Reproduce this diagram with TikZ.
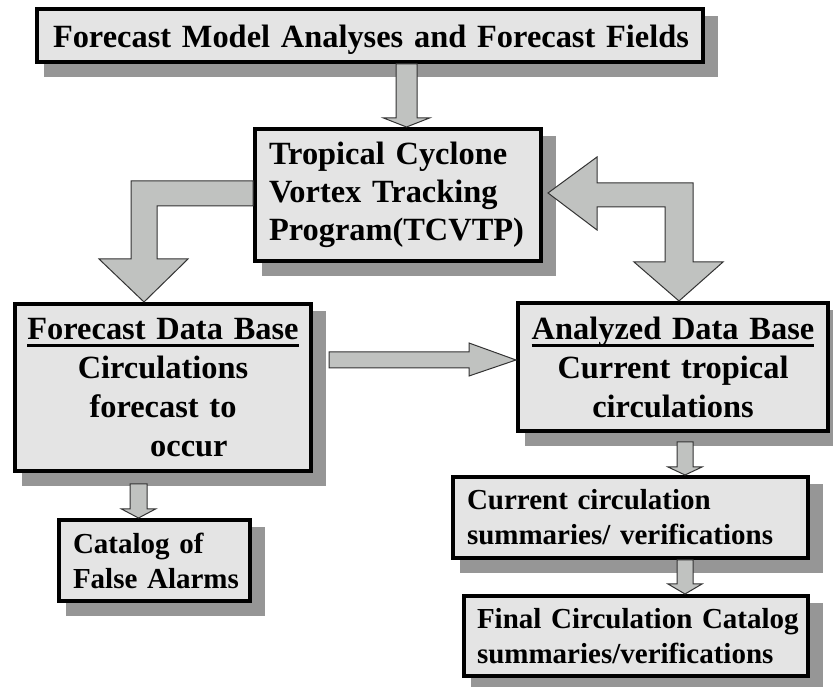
\documentclass[tikz,border=0pt]{standalone}
\usepackage{fontspec}
\setmainfont{Liberation Serif}
\usepackage{tikz}
\usetikzlibrary{calc}
\definecolor{BoxFill}{HTML}{E4E4E4}
\definecolor{ShadowGray}{HTML}{969696}
\definecolor{ArrowFill}{HTML}{C0C2C0}
\definecolor{ArrowLine}{HTML}{333333}

% thick underline for the data base headings
\newcommand{\ulbar}[1]{\setbox0\hbox{#1}\rlap{\copy0}\rule[-8pt]{\wd0}{3.5pt}}

% down block arrow: from, to, x, shaft half width, head half width, head length, gap
\newcommand{\downblock}[7]{%
  \draw[blockarrow] let \p1=(#1.south), \p2=(#2.north) in
    ({#3pt-#4pt},{\y1-#7pt}) -- ({#3pt-#4pt},{\y2+#6pt}) -- ({#3pt-#5pt},{\y2+#6pt})
    -- (#3pt,\y2) -- ({#3pt+#5pt},{\y2+#6pt}) -- ({#3pt+#4pt},{\y2+#6pt})
    -- ({#3pt+#4pt},{\y1-#7pt}) -- cycle;}

\begin{document}
\begin{tikzpicture}[x=1pt, y=1pt,
  box/.style={draw, line width=4pt, fill=BoxFill, inner sep=0pt, anchor=north west,
    execute at begin node={\hyphenpenalty=10000\exhyphenpenalty=10000\hbadness=10000\hfuzz=50pt},
    preaction={draw=ShadowGray, fill=ShadowGray, line width=8pt,
      transform canvas={shift={(11pt,-11pt)}}}},
  big/.style={font=\fontsize{32.4}{39}\selectfont\bfseries},
  small/.style={font=\fontsize{29}{35}\selectfont\bfseries},
  blockarrow/.style={draw=ArrowLine, line width=1pt, fill=ArrowFill, line join=miter}]
  \useasboundingbox (0,0) rectangle (833,687);

  \node[box, big, minimum width=666pt, minimum height=53pt, text width=634pt, align=left,
    text height=25pt, text depth=0pt]
    (title) at (35,680) {Forecast~Model~Analyses~and~Forecast~Fields};
  \node[box, font=\fontsize{32.4}{38}\selectfont\bfseries, minimum width=286pt,
    minimum height=132pt, text width=258pt, align=left]
    (tcvtp) at (253,560) {Tropical~Cyclone\\Vortex~Tracking\\Program(TCVTP)};
  \node[box, big, minimum width=296pt, minimum height=167pt, text width=280pt, align=center]
    (fdb) at (13,385) {\ulbar{Forecast Data Base}\\Circulations\\forecast to\\\hspace*{1.6em}occur};
  \node[box, big, minimum width=310pt, minimum height=128pt, text width=290pt, align=center]
    (adb) at (516,386) {\ulbar{Analyzed Data Base}\\Current tropical\\circulations};
  \node[box, small, minimum width=355pt, minimum height=81pt, text width=327pt, align=left]
    (current) at (451,212) {Current~circulation\\summaries/~verifications};
  \node[box, small, minimum width=344pt, minimum height=80pt, text width=318pt, align=left]
    (final) at (462,93) {Final~Circulation~Catalog\\summaries/verifications};
  \node[box, small, minimum width=191pt, minimum height=81pt, text width=163pt, align=left]
    (catalog) at (57,169) {Catalog~of\\False~Alarms};

  % block arrows
  \downblock{title}{tcvtp}{406.5}{10.5}{23}{9}{0}
  \draw[blockarrow] let \p1=(tcvtp.west), \p2=(fdb.north) in
    (\x1,506) -- (131,506) -- (131,{\y2+43pt}) -- (99,{\y2+43pt}) -- (144,\y2)
    -- (188,{\y2+43pt}) -- (157,{\y2+43pt}) -- (157,481) -- (\x1,481) -- cycle;
  \draw[blockarrow] let \p1=(tcvtp.east), \p2=(adb.north) in
    ({\x1+5pt},494) -- (597,530) -- (597,504) -- (693,504) -- (693,{\y2+39pt})
    -- (723,{\y2+39pt}) -- (679,\y2) -- (634,{\y2+39pt}) -- (665,{\y2+39pt})
    -- (665,480) -- (597,480) -- (597,457) -- cycle;
  \draw[blockarrow] let \p1=(fdb.east), \p2=(adb.west) in
    ({\x1+16pt},335) -- (469,335) -- (469,344) -- (\x2,327) -- (469,311)
    -- (469,319) -- ({\x1+16pt},319) -- cycle;
  \downblock{fdb}{catalog}{138.5}{8.5}{17}{9}{11}
  \downblock{adb}{current}{685}{8}{17}{8}{9}
  \downblock{current}{final}{685}{8}{17}{10}{0}
\end{tikzpicture}
\end{document}
